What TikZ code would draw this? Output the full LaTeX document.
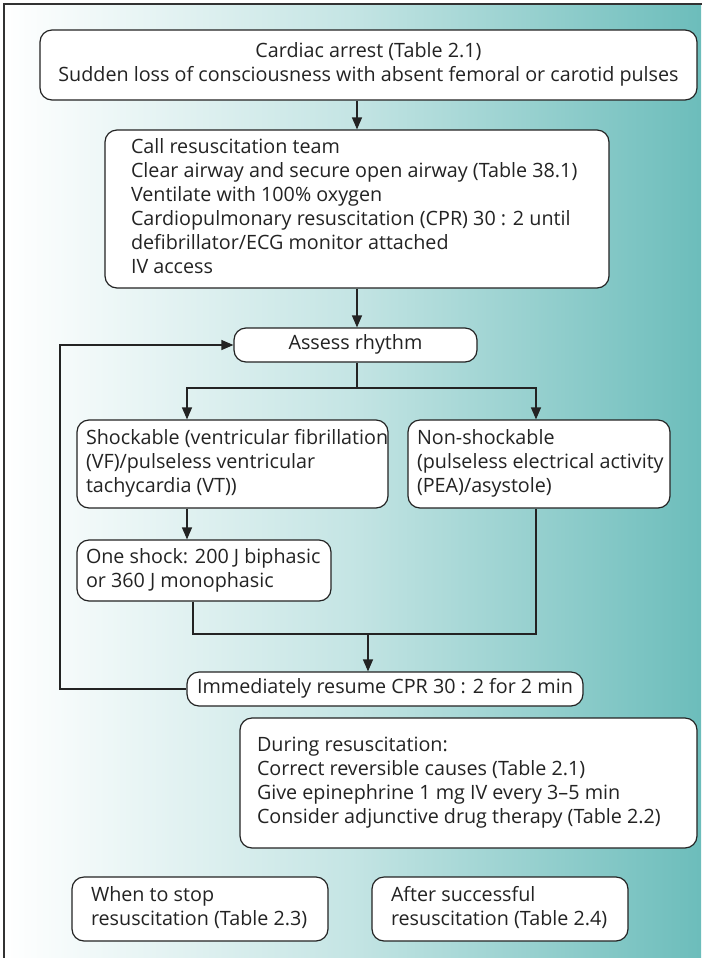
\documentclass[tikz,border=0pt]{standalone}
\usepackage{fontspec}
\setmainfont{Open Sans}
\usetikzlibrary{arrows.meta,calc}
\definecolor{tealend}{RGB}{108,189,187}
\definecolor{frame}{RGB}{50,50,50}
\definecolor{ink}{RGB}{35,35,35}

% box given by its corners (x1,y1)-(x2,y2) in pixel units, left padding,
% alignment (l or c); lines are set without wrapping
\newcommand\flowbox[8]{%
  \pgfmathsetmacro\tw{(#4-#2-2*#6)*0.75}%
  \node[box, inner xsep=#6*0.75pt,
        minimum width={(#4-#2)*0.75pt}, minimum height={(#5-#3)*0.75pt}]
        (#1) at ({(#2+#4)/2},{(#3+#5)/2})
        {\makebox[\tw pt][#7]{\begin{tabular}{@{}#7@{}}#8\end{tabular}}};}

\begin{document}
\begin{tikzpicture}[x=0.75pt,y=-0.75pt,
  box/.style={draw=ink, line width=0.9pt, rounded corners=9pt, fill=white,
              inner ysep=0pt, text=ink,
              font=\fontsize{14.8}{18}\selectfont},
  link/.style={draw=ink, line width=0.9pt},
  arr/.style={link, -{Triangle[length=9pt,width=7.5pt]}}]
  \useasboundingbox (0,0) rectangle (701,958);
  % background panel
  \shade[left color=white, right color=tealend, middle color=white!60!tealend]
        (4,4) rectangle (701,958);
  \draw[frame, line width=1.2pt] (4,962) -- (4,4) -- (705,4);

  \flowbox{arrest}{40}{30}{697}{100}{8}{c}{Cardiac arrest (Table 2.1)\\Sudden loss of consciousness with absent femoral or carotid pulses}
  \flowbox{team}{105}{130}{609}{288}{26}{l}{Call resuscitation team\\Clear airway and secure open airway (Table 38.1)\\Ventilate with 100\% oxygen\\Cardiopulmonary resuscitation (CPR) 30 : 2 until\\defibrillator/ECG monitor attached\\IV access}
  \flowbox{assess}{234}{328}{477}{362}{8}{c}{Assess rhythm}
  \flowbox{shock}{77}{420}{388}{508}{9}{l}{Shockable (ventricular fibrillation\\(VF)/pulseless ventricular\\tachycardia (VT))}
  \flowbox{nonshock}{408}{420}{670}{508}{9}{l}{Non-shockable\\(pulseless electrical activity\\(PEA)/asystole)}
  \flowbox{oneshock}{77}{540}{331}{601}{9}{l}{One shock: 200 J biphasic\\or 360 J monophasic}
  \flowbox{resume}{187}{672}{583}{706}{6}{c}{Immediately resume CPR 30 : 2 for 2 min}
  \flowbox{during}{240}{718}{697}{848}{17}{l}{During resuscitation:\\Correct reversible causes (Table 2.1)\\Give epinephrine 1 mg IV every 3--5 min\\Consider adjunctive drug therapy (Table 2.2)}
  \flowbox{stop}{72}{877}{328}{941}{19}{l}{When to stop\\resuscitation (Table 2.3)}
  \flowbox{after}{372}{877}{628}{941}{19}{l}{After successful\\resuscitation (Table 2.4)}

  % routing columns and junctions
  \coordinate (xmain) at (357,0);
  \coordinate (xshock) at (187,0);
  \coordinate (xone) at (193,0);
  \coordinate (xnon) at (536,0);
  \coordinate (xloop) at (60,0);
  \coordinate (split) at (357,388);
  \coordinate (merge) at (368,634);

  \draw[arr] (arrest.south -| xmain) -- (team.north -| xmain);
  \draw[arr] (team.south -| xmain) -- (assess.north -| xmain);
  \draw[link] (assess.south -| xmain) -- (split);
  \draw[arr] (split) -| (shock.north -| xshock);
  \draw[arr] (split) -| (nonshock.north -| xnon);
  \draw[arr] (shock.south -| xshock) -- (oneshock.north -| xshock);
  \draw[link] (oneshock.south -| xone) |- (merge) -| (nonshock.south -| xnon);
  \draw[arr] (merge) -- (resume.north -| merge);
  \draw[arr] (resume.west) -- (resume.west -| xloop) |- (assess.west);
\end{tikzpicture}
\end{document}
